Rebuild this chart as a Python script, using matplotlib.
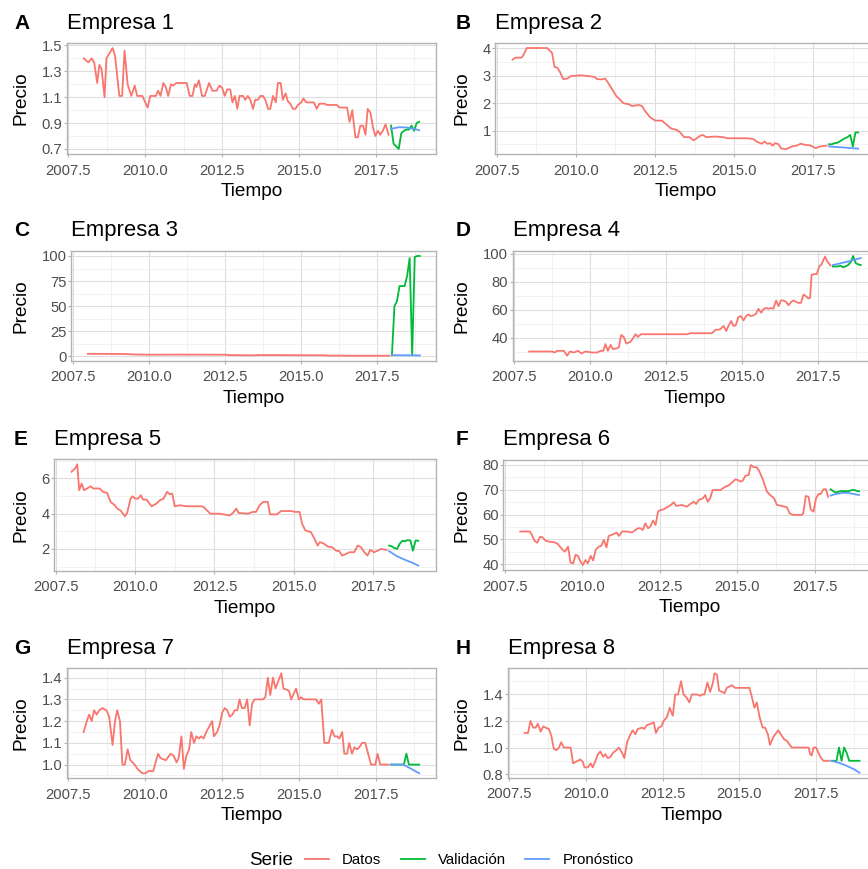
import matplotlib
matplotlib.use('Agg')
import matplotlib.pyplot as plt
from matplotlib.ticker import FixedLocator, FormatStrFormatter

plt.rcParams['font.family'] = ['Liberation Sans', 'DejaVu Sans']

# ---- data ----
series_names = ['Datos', 'Validación', 'Pronóstico']
t_val = [2018.0, 2018.083, 2018.167, 2018.25, 2018.333, 2018.417,
         2018.5, 2018.583, 2018.667, 2018.75, 2018.833, 2018.917]

# Empresa 1
t1 = [2008.0, 2008.15, 2008.26, 2008.34, 2008.44, 2008.51, 2008.58, 2008.68, 2008.74, 2008.94,
      2009.02, 2009.16, 2009.25, 2009.33, 2009.43, 2009.55, 2009.66, 2009.74, 2009.91, 2010.08,
      2010.17, 2010.35, 2010.42, 2010.50, 2010.59, 2010.67, 2010.75, 2010.84, 2010.91, 2011.02,
      2011.35, 2011.45, 2011.54, 2011.62, 2011.67, 2011.75, 2011.85, 2011.94, 2012.08, 2012.19,
      2012.32, 2012.42, 2012.51, 2012.59, 2012.67, 2012.77, 2012.84, 2012.92, 2013.00, 2013.07,
      2013.18, 2013.26, 2013.34, 2013.42, 2013.51, 2013.58, 2013.67, 2013.75, 2013.83, 2013.91,
      2014.00, 2014.07, 2014.16, 2014.25, 2014.32, 2014.41, 2014.48, 2014.57, 2014.64, 2014.72,
      2014.81, 2014.89, 2014.97, 2015.08, 2015.15, 2015.24, 2015.32, 2015.49, 2015.58, 2015.67,
      2015.83, 2015.92, 2016.24, 2016.32, 2016.57, 2016.65, 2016.74, 2016.84, 2016.92, 2017.00,
      2017.09, 2017.17, 2017.24, 2017.33, 2017.41, 2017.49, 2017.57, 2017.65, 2017.73, 2017.82,
      2017.92]
datos1 = [1.40, 1.37, 1.40, 1.37, 1.21, 1.35, 1.32, 1.10, 1.40, 1.48,
          1.42, 1.11, 1.11, 1.46, 1.20, 1.11, 1.19, 1.11, 1.11, 1.02,
          1.11, 1.11, 1.15, 1.11, 1.21, 1.18, 1.11, 1.20, 1.19, 1.21,
          1.21, 1.11, 1.11, 1.20, 1.18, 1.23, 1.11, 1.11, 1.21, 1.15,
          1.15, 1.19, 1.17, 1.11, 1.16, 1.16, 1.06, 1.11, 1.01, 1.11,
          1.11, 1.08, 1.11, 1.08, 1.01, 1.08, 1.08, 1.11, 1.11, 1.08,
          1.01, 1.01, 1.11, 1.06, 1.21, 1.21, 1.08, 1.13, 1.07, 1.05,
          1.01, 1.01, 1.04, 1.06, 1.09, 1.06, 1.06, 1.06, 1.01, 1.05,
          1.05, 1.04, 1.04, 1.02, 1.02, 0.91, 1.00, 0.79, 0.79, 0.88,
          0.88, 0.81, 1.01, 0.98, 0.87, 0.80, 0.84, 0.81, 0.84, 0.89,
          0.81]
valid1 = [0.88, 0.74, 0.72, 0.70, 0.82, 0.84, 0.85, 0.85, 0.88, 0.84, 0.90, 0.91]
tp1 = [2018.0, 2018.25, 2018.5, 2018.75, 2018.917]
pron1 = [0.855, 0.868, 0.866, 0.855, 0.845]

# Empresa 2
t2 = [2008.0, 2008.10, 2008.28, 2008.34, 2008.45, 2009.10, 2009.25, 2009.33, 2009.41, 2009.50,
      2009.60, 2009.73, 2009.85, 2010.15, 2010.41, 2010.59, 2010.67, 2010.83, 2010.93, 2011.09,
      2011.28, 2011.39, 2011.51, 2011.67, 2011.78, 2011.99, 2012.09, 2012.20, 2012.35, 2012.51,
      2012.72, 2012.88, 2013.00, 2013.19, 2013.30, 2013.42, 2013.59, 2013.72, 2013.82, 2013.93,
      2014.01, 2014.12, 2014.40, 2014.66, 2014.77, 2015.40, 2015.61, 2015.71, 2015.87, 2015.96,
      2016.05, 2016.13, 2016.22, 2016.29, 2016.38, 2016.50, 2016.66, 2016.82, 2016.97, 2017.11,
      2017.24, 2017.40, 2017.58, 2017.71, 2017.92]
datos2 = [3.58, 3.65, 3.65, 3.73, 4.00, 4.00, 3.82, 3.31, 3.29, 3.13,
          2.87, 2.89, 2.98, 3.01, 2.98, 2.95, 2.87, 2.86, 2.89, 2.61,
          2.25, 2.13, 1.99, 1.96, 1.89, 1.93, 1.89, 1.69, 1.48, 1.36,
          1.36, 1.20, 1.08, 1.02, 0.93, 0.76, 0.76, 0.64, 0.72, 0.81,
          0.84, 0.76, 0.78, 0.76, 0.72, 0.72, 0.69, 0.60, 0.52, 0.60,
          0.52, 0.54, 0.45, 0.54, 0.52, 0.34, 0.33, 0.42, 0.45, 0.52,
          0.48, 0.46, 0.36, 0.42, 0.45]
valid2 = [0.50, 0.50, 0.54, 0.55, 0.60, 0.66, 0.72, 0.76, 0.84, 0.42, 0.93, 0.93]
tp2 = [2018.0, 2018.5, 2018.917]
pron2 = [0.42, 0.38, 0.34]

# Empresa 3
t3 = [2008.0, 2009.2, 2009.6, 2010.0, 2011.0, 2012.5, 2012.7, 2013.5, 2013.6, 2015.8,
      2016.0, 2016.3, 2016.5, 2017.92]
datos3 = [2.5, 2.3, 1.8, 1.6, 1.7, 1.6, 1.2, 1.0, 1.3, 1.0, 0.6, 0.8, 0.6, 0.6]
valid3 = [1.0, 50.0, 55.0, 70.0, 70.0, 70.0, 80.0, 98.0, 1.0, 99.0, 100.0, 100.0]
tp3 = [2018.0, 2018.5, 2018.917]
pron3 = [1.2, 1.0, 0.9]

# Empresa 4
t4 = [2008.0, 2008.76, 2008.84, 2008.92, 2009.14, 2009.25, 2009.34, 2009.47, 2009.61, 2009.72,
      2009.85, 2010.07, 2010.24, 2010.35, 2010.44, 2010.51, 2010.59, 2010.68, 2010.76, 2010.87,
      2010.95, 2011.03, 2011.11, 2011.20, 2011.33, 2011.42, 2011.50, 2011.58, 2011.68, 2013.20,
      2013.31, 2013.52, 2014.02, 2014.13, 2014.29, 2014.40, 2014.49, 2014.56, 2014.65, 2014.73,
      2014.80, 2014.89, 2014.97, 2015.06, 2015.14, 2015.22, 2015.30, 2015.39, 2015.47, 2015.55,
      2015.64, 2015.71, 2015.80, 2015.88, 2015.97, 2016.04, 2016.13, 2016.21, 2016.29, 2016.37,
      2016.46, 2016.54, 2016.63, 2016.70, 2016.79, 2016.86, 2016.95, 2017.03, 2017.12, 2017.19,
      2017.25, 2017.30, 2017.39, 2017.47, 2017.55, 2017.63, 2017.74, 2017.82, 2017.92]
datos4 = [30.0, 30.0, 29.3, 30.5, 30.5, 27.0, 30.0, 29.3, 30.5, 28.6,
          30.0, 29.3, 29.3, 30.5, 30.5, 35.3, 30.5, 34.8, 31.7, 32.2,
          32.9, 41.9, 40.5, 35.7, 36.9, 39.5, 42.4, 40.5, 42.4, 42.4,
          43.1, 43.1, 43.1, 45.5, 45.9, 48.3, 44.7, 48.3, 51.9, 48.3,
          48.8, 54.7, 55.4, 52.3, 55.4, 56.6, 55.4, 55.9, 57.1, 60.6,
          57.8, 60.2, 61.3, 60.6, 61.3, 60.6, 66.6, 62.5, 66.6, 66.6,
          65.6, 63.2, 65.6, 66.6, 65.6, 64.9, 64.9, 70.8, 69.6, 68.0,
          68.5, 85.1, 85.5, 85.5, 91.0, 92.6, 98.1, 94.5, 91.7]
valid4 = [91.0, 91.0, 91.0, 91.5, 90.5, 91.0, 92.0, 94.0, 98.5, 93.5, 92.5, 92.0]
tp4 = [2018.0, 2018.5, 2018.917]
pron4 = [92.0, 94.5, 97.0]

# Empresa 5
t5 = [2008.0, 2008.11, 2008.18, 2008.24, 2008.32, 2008.39, 2008.49, 2008.60, 2008.68, 2008.89,
      2008.99, 2009.12, 2009.23, 2009.36, 2009.44, 2009.54, 2009.68, 2009.75, 2009.86, 2009.92,
      2010.00, 2010.10, 2010.18, 2010.25, 2010.36, 2010.52, 2010.67, 2010.78, 2010.90, 2011.01,
      2011.09, 2011.17, 2011.25, 2011.41, 2011.62, 2011.83, 2012.09, 2012.16, 2012.37, 2012.66,
      2012.98, 2013.08, 2013.19, 2013.26, 2013.55, 2013.71, 2013.81, 2013.92, 2014.04, 2014.18,
      2014.25, 2014.46, 2014.60, 2014.91, 2015.05, 2015.18, 2015.26, 2015.36, 2015.54, 2015.65,
      2015.75, 2015.82, 2015.93, 2016.07, 2016.20, 2016.33, 2016.43, 2016.52, 2016.64, 2016.75,
      2016.90, 2017.01, 2017.11, 2017.22, 2017.32, 2017.40, 2017.53, 2017.64, 2017.74, 2017.92]
datos5 = [6.38, 6.57, 6.80, 5.33, 5.71, 5.33, 5.43, 5.56, 5.43, 5.43,
          5.24, 5.18, 4.67, 4.48, 4.29, 4.19, 3.85, 4.04, 4.86, 4.99,
          4.86, 4.86, 5.05, 4.80, 4.80, 4.42, 4.57, 4.76, 4.86, 5.24,
          5.10, 5.14, 4.42, 4.48, 4.42, 4.42, 4.42, 4.38, 4.00, 4.00,
          3.90, 4.04, 4.29, 4.04, 4.00, 4.10, 4.10, 4.48, 4.67, 4.67,
          3.96, 3.96, 4.15, 4.15, 4.10, 4.10, 3.43, 3.05, 2.95, 2.57,
          2.19, 2.38, 2.32, 2.13, 2.10, 1.90, 1.87, 1.62, 1.71, 1.81,
          1.81, 2.19, 2.10, 1.81, 1.62, 1.94, 1.81, 1.90, 2.00, 1.94]
valid5 = [2.19, 2.15, 2.05, 2.00, 2.29, 2.46, 2.44, 2.50, 2.48, 1.90, 2.48, 2.46]
tp5 = [2018.0, 2018.25, 2018.5, 2018.75, 2018.917]
pron5 = [1.87, 1.58, 1.38, 1.20, 1.05]

# Empresa 6
t6 = [2008.0, 2008.31, 2008.39, 2008.46, 2008.55, 2008.64, 2008.71, 2008.82, 2008.93, 2009.09,
      2009.21, 2009.35, 2009.44, 2009.54, 2009.62, 2009.71, 2009.78, 2009.86, 2009.94, 2010.02,
      2010.10, 2010.18, 2010.27, 2010.35, 2010.43, 2010.53, 2010.61, 2010.69, 2010.78, 2010.85,
      2011.02, 2011.10, 2011.18, 2011.28, 2011.44, 2011.60, 2011.71, 2011.79, 2011.87, 2011.95,
      2012.03, 2012.12, 2012.19, 2012.28, 2012.36, 2012.44, 2012.52, 2012.62, 2012.73, 2012.86,
      2012.94, 2013.03, 2013.21, 2013.37, 2013.48, 2013.59, 2013.67, 2013.75, 2013.89, 2013.96,
      2014.04, 2014.12, 2014.20, 2014.45, 2014.61, 2014.71, 2014.82, 2014.93, 2015.01, 2015.09,
      2015.17, 2015.25, 2015.36, 2015.43, 2015.52, 2015.62, 2015.71, 2015.82, 2015.95, 2016.05,
      2016.18, 2016.27, 2016.43, 2016.59, 2016.68, 2016.79, 2016.92, 2017.07, 2017.12, 2017.20,
      2017.29, 2017.36, 2017.45, 2017.53, 2017.61, 2017.68, 2017.77, 2017.85, 2017.92]
datos6 = [53.2, 53.2, 51.4, 49.4, 48.7, 51.1, 50.9, 49.5, 49.1, 48.9,
          48.2, 46.0, 45.1, 47.1, 40.7, 40.4, 43.8, 43.4, 41.1, 39.7,
          41.7, 40.4, 43.4, 41.5, 45.8, 47.1, 47.4, 49.8, 46.8, 51.4,
          52.2, 52.8, 51.4, 53.2, 53.2, 52.8, 53.8, 54.5, 54.5, 53.8,
          56.5, 54.5, 55.2, 57.6, 55.8, 61.2, 61.9, 62.1, 63.0, 63.9,
          65.0, 63.5, 63.9, 63.2, 64.3, 65.2, 64.3, 65.9, 66.6, 67.9,
          65.2, 66.6, 69.9, 69.9, 71.3, 71.7, 72.9, 74.2, 74.0, 73.3,
          73.7, 75.6, 76.0, 80.0, 79.1, 79.1, 77.3, 74.0, 69.3, 67.9,
          66.6, 63.9, 63.5, 63.0, 60.5, 59.9, 59.9, 59.9, 60.5, 67.5,
          67.2, 62.1, 61.2, 66.6, 68.3, 68.3, 70.2, 70.2, 67.2]
valid6 = [70.2, 69.5, 68.9, 69.2, 69.5, 69.5, 69.4, 69.5, 69.8, 70.0, 69.6, 69.4]
tp6 = [2018.0, 2018.17, 2018.42, 2018.58, 2018.75, 2018.917]
pron6 = [67.7, 68.3, 68.8, 68.7, 68.3, 67.9]

# Empresa 7
t7 = [2008.0, 2008.10, 2008.18, 2008.26, 2008.34, 2008.42, 2008.51, 2008.61, 2008.74, 2008.83,
      2008.94, 2009.02, 2009.09, 2009.18, 2009.26, 2009.34, 2009.43, 2009.52, 2009.66, 2009.75,
      2009.91, 2010.02, 2010.10, 2010.26, 2010.42, 2010.50, 2010.67, 2010.83, 2010.93, 2011.02,
      2011.09, 2011.18, 2011.26, 2011.34, 2011.43, 2011.50, 2011.59, 2011.67, 2011.75, 2011.83,
      2011.90, 2011.99, 2012.18, 2012.24, 2012.34, 2012.42, 2012.51, 2012.59, 2012.67, 2012.75,
      2012.84, 2012.91, 2013.00, 2013.07, 2013.15, 2013.24, 2013.32, 2013.40, 2013.48, 2013.56,
      2013.83, 2013.91, 2013.99, 2014.07, 2014.16, 2014.24, 2014.32, 2014.43, 2014.50, 2014.68,
      2014.75, 2014.91, 2015.00, 2015.08, 2015.15, 2015.56, 2015.65, 2015.73, 2015.83, 2015.97,
      2016.08, 2016.16, 2016.25, 2016.32, 2016.41, 2016.48, 2016.57, 2016.64, 2016.73, 2016.81,
      2016.89, 2016.97, 2017.06, 2017.16, 2017.35, 2017.49, 2017.56, 2017.65, 2017.92]
datos7 = [1.15, 1.20, 1.23, 1.20, 1.25, 1.23, 1.25, 1.26, 1.25, 1.22,
          1.09, 1.20, 1.25, 1.20, 1.00, 1.00, 1.07, 1.02, 1.00, 0.98,
          0.96, 0.96, 0.97, 0.97, 1.05, 1.03, 1.02, 1.05, 1.04, 1.01,
          1.03, 1.13, 0.98, 1.04, 1.07, 1.15, 1.10, 1.13, 1.12, 1.13,
          1.12, 1.15, 1.20, 1.13, 1.15, 1.18, 1.24, 1.26, 1.25, 1.22,
          1.23, 1.25, 1.25, 1.30, 1.26, 1.26, 1.30, 1.18, 1.28, 1.30,
          1.30, 1.31, 1.40, 1.32, 1.40, 1.35, 1.38, 1.42, 1.35, 1.34,
          1.30, 1.35, 1.30, 1.31, 1.30, 1.30, 1.28, 1.30, 1.10, 1.10,
          1.16, 1.13, 1.13, 1.12, 1.15, 1.05, 1.05, 1.10, 1.05, 1.08,
          1.07, 1.08, 1.10, 1.10, 1.00, 1.00, 1.05, 1.00, 1.00]
valid7 = [1.00, 1.00, 1.00, 1.00, 1.00, 1.00, 1.05, 1.00, 1.00, 1.00, 1.00, 1.00]
tp7 = [2018.0, 2018.4, 2018.6, 2018.917]
pron7 = [1.00, 1.00, 0.985, 0.96]

# Empresa 8
t8 = [2008.0, 2008.11, 2008.19, 2008.28, 2008.36, 2008.43, 2008.52, 2008.61, 2008.68, 2008.79,
      2008.87, 2008.95, 2009.04, 2009.12, 2009.19, 2009.28, 2009.50, 2009.58, 2009.73, 2009.82,
      2009.90, 2009.95, 2010.06, 2010.15, 2010.22, 2010.31, 2010.39, 2010.47, 2010.56, 2010.63,
      2010.71, 2010.80, 2010.88, 2010.99, 2011.07, 2011.18, 2011.25, 2011.34, 2011.45, 2011.52,
      2011.61, 2011.69, 2011.83, 2011.90, 2011.99, 2012.12, 2012.21, 2012.28, 2012.37, 2012.46,
      2012.53, 2012.64, 2012.73, 2012.83, 2012.91, 2013.00, 2013.10, 2013.18, 2013.27, 2013.37,
      2013.45, 2013.62, 2013.71, 2013.78, 2013.86, 2013.96, 2014.05, 2014.14, 2014.19, 2014.27,
      2014.34, 2014.43, 2014.52, 2014.59, 2014.76, 2014.86, 2015.33, 2015.41, 2015.49, 2015.57,
      2015.66, 2015.76, 2015.84, 2015.93, 2016.00, 2016.11, 2016.27, 2016.38, 2016.47, 2016.55,
      2016.71, 2017.26, 2017.31, 2017.36, 2017.42, 2017.50, 2017.64, 2017.74, 2017.92]
datos8 = [1.11, 1.11, 1.20, 1.15, 1.15, 1.18, 1.12, 1.16, 1.15, 1.14,
          1.09, 0.99, 0.98, 1.00, 1.04, 1.00, 1.00, 0.88, 0.90, 0.91,
          0.89, 0.85, 0.85, 0.88, 0.85, 0.90, 0.95, 0.97, 0.93, 0.95,
          0.92, 0.93, 0.96, 0.98, 1.00, 0.96, 0.92, 1.04, 1.10, 1.13,
          1.10, 1.14, 1.15, 1.14, 1.17, 1.18, 1.19, 1.11, 1.15, 1.16,
          1.20, 1.23, 1.30, 1.24, 1.40, 1.40, 1.50, 1.40, 1.38, 1.34,
          1.40, 1.40, 1.39, 1.40, 1.40, 1.49, 1.42, 1.49, 1.56, 1.55,
          1.43, 1.42, 1.41, 1.45, 1.47, 1.45, 1.45, 1.38, 1.30, 1.34,
          1.23, 1.15, 1.15, 1.10, 1.02, 1.08, 1.13, 1.09, 1.06, 1.05,
          1.00, 1.00, 0.95, 0.94, 1.00, 1.00, 0.93, 0.90, 0.90]
valid8 = [0.90, 0.90, 0.90, 1.00, 0.90, 1.00, 0.96, 0.90, 0.90, 0.90, 0.90, 0.90]
tp8 = [2018.0, 2018.25, 2018.5, 2018.75, 2018.917]
pron8 = [0.90, 0.885, 0.862, 0.835, 0.81]

x_ticks = [2007.5, 2010.0, 2012.5, 2015.0, 2017.5]
y_ticks = [[0.7, 0.9, 1.1, 1.3, 1.5], [1, 2, 3, 4], [0, 25, 50, 75, 100], [40, 60, 80, 100],
           [2, 4, 6], [40, 50, 60, 70, 80], [1.0, 1.1, 1.2, 1.3, 1.4], [0.8, 1.0, 1.2, 1.4]]
y_fmt = ['%.1f', '%d', '%d', '%d', '%d', '%d', '%.1f', '%.1f']
letters = ['A', 'B', 'C', 'D', 'E', 'F', 'G', 'H']

datos_t = [t1, t2, t3, t4, t5, t6, t7, t8]
datos = [datos1, datos2, datos3, datos4, datos5, datos6, datos7, datos8]
valid = [valid1, valid2, valid3, valid4, valid5, valid6, valid7, valid8]
pron_t = [tp1, tp2, tp3, tp4, tp5, tp6, tp7, tp8]
pron = [pron1, pron2, pron3, pron4, pron5, pron6, pron7, pron8]

colors = ['#F8766D', '#00BA38', '#619CFF']

# panel boxes in pixels: left, top, width, height, title baseline
boxes = [(66.9, 43, 369.1, 111, 29.3), (495.2, 43, 380.2, 111, 29.3),
         (71.3, 251, 365.1, 109.7, 235.7), (512.6, 251, 364.7, 109.7, 235.7),
         (54.2, 459.3, 381.4, 111.4, 445), (503.3, 460, 372.7, 110, 445),
         (66.9, 668.3, 369.1, 110, 654), (507.9, 668.3, 368.3, 109.4, 654)]

W, H = 868, 869
fig = plt.figure(figsize=(W / 100, H / 100), dpi=100)


def mids(v):
    step = v[1] - v[0]
    return [v[0] - step / 2] + [a + step / 2 for a in v]


for i in range(8):
    l, t, w, h, tb = boxes[i]
    ax = fig.add_axes([l / W, 1 - (t + h) / H, w / W, h / H])
    ax.plot(datos_t[i], datos[i], color=colors[0], lw=1.3, label=series_names[0])
    ax.plot(t_val, valid[i], color=colors[1], lw=1.3, label=series_names[1])
    ax.plot(pron_t[i], pron[i], color=colors[2], lw=1.3, label=series_names[2])
    ax.set_xlim(2007.454, 2019.463)
    ax.margins(y=0.05)
    ax.xaxis.set_major_locator(FixedLocator(x_ticks))
    ax.xaxis.set_minor_locator(FixedLocator(mids(x_ticks)))
    ax.xaxis.set_major_formatter(FormatStrFormatter('%.1f'))
    ax.yaxis.set_major_locator(FixedLocator(y_ticks[i]))
    ax.yaxis.set_minor_locator(FixedLocator(mids(y_ticks[i])))
    ax.yaxis.set_major_formatter(FormatStrFormatter(y_fmt[i]))
    ax.grid(which='major', color='#DEDEDE', lw=0.8)
    ax.grid(which='minor', color='#EDEDED', lw=0.5)
    ax.set_axisbelow(True)
    for s in ax.spines.values():
        s.set_color('#B3B3B3')
        s.set_linewidth(1.0)
    ax.tick_params(which='major', length=2.0, width=0.8, color='#B3B3B3',
                   labelsize=10.6, labelcolor='#4D4D4D')
    ax.tick_params(axis='x', which='major', pad=5.0)
    ax.tick_params(axis='y', which='major', pad=1.2)
    ax.tick_params(which='minor', length=0)

    col = i % 2
    fig.text((14 if col == 0 else 455.7) / W, 1 - tb / H, letters[i],
             fontsize=15, fontweight='bold', va='baseline')
    fig.text(l / W, 1 - tb / H, f'Empresa {i + 1}', fontsize=15.9, va='baseline')
    fig.text((21 if col == 0 else 462) / W, 1 - (t + h / 2) / H, 'Precio',
             rotation=90, ha='center', va='center', fontsize=13.7)
    fig.text((l + w / 2) / W, 1 - (t + h + 42) / H, 'Tiempo',
             ha='center', va='baseline', fontsize=13.7)
    if i == 0:
        handles, labels = ax.get_legend_handles_labels()

fig.text(249 / W, 1 - 865 / H, 'Serie', fontsize=13.6, va='baseline')
fig.legend(handles, labels, loc='center left', bbox_to_anchor=(305 / W, 1 - 860 / H),
           ncol=3, frameon=False, fontsize=10.8, handlelength=1.6, handletextpad=0.87,
           columnspacing=1.3, borderpad=0, borderaxespad=0)

fig.savefig('out.png', dpi=100)
